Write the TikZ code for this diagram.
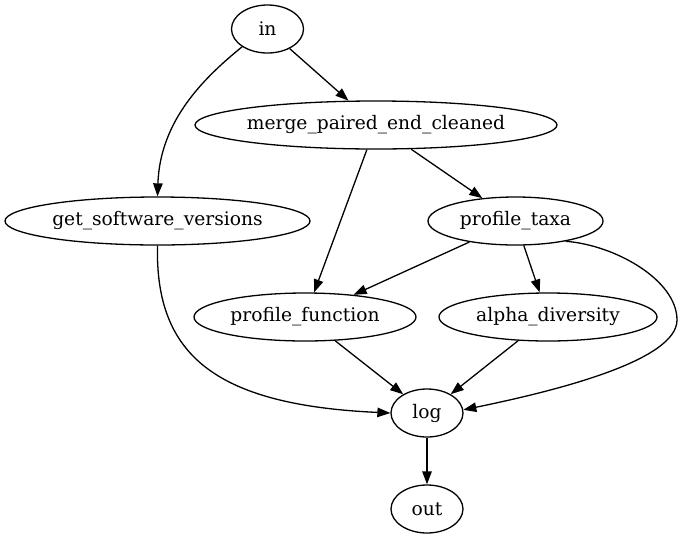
\documentclass[tikz,border=0pt]{standalone}
\usepackage{fontspec}
\setmainfont{DejaVu Serif}
\usetikzlibrary{shapes.geometric,arrows.meta}
% zero-width label so the ellipse keeps its given size
\newcommand\zw[1]{\makebox[0pt]{#1}}
\begin{document}
\begin{tikzpicture}[x=1pt,y=-1pt,
  task/.style={ellipse,draw,line width=1.3pt,inner sep=0pt,minimum height=48pt,
    font=\fontsize{18.67}{22}\selectfont},
  flow/.style={draw,line width=1.3pt,-{Triangle[length=13pt,width=9.5pt]}}]
\useasboundingbox (0,0) rectangle (683,539);

% workflow steps
\node[task,minimum width=72pt]  (in)    at (267.5,29)  {\zw{in}};
\node[task,minimum width=362pt] (merge) at (376,125)   {\zw{merge\_paired\_end\_cleaned}};
\node[task,minimum width=305pt] (sw)    at (157.5,221) {\zw{get\_software\_versions}};
\node[task,minimum width=175pt] (taxa)  at (515.5,221) {\zw{profile\_taxa}};
\node[task,minimum width=222pt] (func)  at (305,317)   {\zw{profile\_function}};
\node[task,minimum width=218pt] (alpha) at (548,317)   {\zw{alpha\_diversity}};
\node[task,minimum width=72pt]  (log)   at (427,413)   {\zw{log}};
\node[task,minimum width=72pt]  (out)   at (427,509)   {\zw{out}};

% dependencies
\draw[flow] (in.215) .. controls (205,77) and (160,120) .. (sw.north);
\draw[flow] (in) -- (merge);
\draw[flow] (merge) -- (taxa);
\draw[flow] (merge) -- (func);
\draw[flow] (taxa) -- (func);
\draw[flow] (taxa) -- (alpha);
\draw[flow] (taxa.-22) .. controls (615,245) and (677,280) .. (677,320)
                       .. controls (677,360) and (560,390) .. (log.5);
\draw[flow] (sw.south) .. controls (155,355) and (215,405) .. (log.west);
\draw[flow] (func) -- (log);
\draw[flow] (alpha) -- (log);
\draw[flow] (log) -- (out);
\end{tikzpicture}
\end{document}
